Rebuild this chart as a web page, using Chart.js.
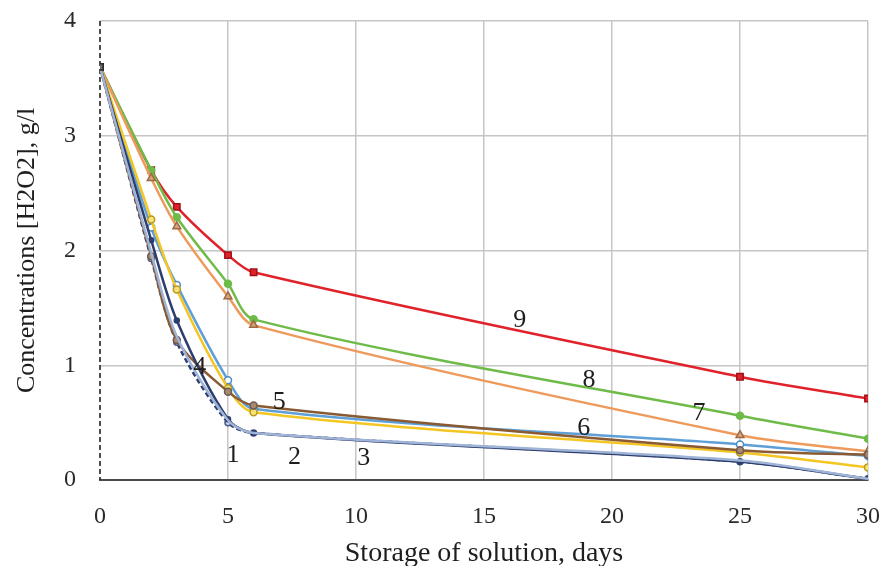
<!DOCTYPE html>
<html>
<head>
<meta charset="utf-8">
<script src="https://cdn.jsdelivr.net/npm/chart.js@4/dist/chart.umd.min.js"></script>
<style>
  html, body { margin: 0; padding: 0; background: #fff; }
  #wrap { width: 885px; height: 566px; }
</style>
</head>
<body>
<div id="wrap"><canvas id="myChart" width="885" height="566"></canvas></div>
<script>
// storage time, days
const days = [0, 2, 3, 5, 6, 25, 30];

// H2O2 concentration, g/l, one array per curve
const curve1 = [3.6, 1.93, 1.20, 0.50, 0.41, 0.16, 0.01];
const curve2 = [3.6, 1.98, 1.25, 0.52, 0.41, 0.17, 0.01];
const curve3 = [3.6, 2.09, 1.39, 0.53, 0.41, 0.16, 0.01];
const curve4 = [3.6, 1.95, 1.22, 0.77, 0.65, 0.26, 0.22];
const curve5 = [3.6, 2.27, 1.66, 0.80, 0.59, 0.24, 0.11];
const curve6 = [3.6, 2.20, 1.70, 0.87, 0.62, 0.31, 0.21];
const curve7 = [3.6, 2.63, 2.21, 1.60, 1.35, 0.39, 0.25];
const curve8 = [3.6, 2.70, 2.29, 1.71, 1.40, 0.56, 0.36];
const curve9 = [3.6, 2.70, 2.38, 1.96, 1.81, 0.90, 0.71];

const xTicks = [0, 5, 10, 15, 20, 25, 30];
const yTicks = [0, 1, 2, 3, 4];

// curve numbers written on the plot: [text, day, concentration]
const curveLabels = [
  ["1", 5.2, 0.22], ["2", 7.6, 0.20], ["3", 10.3, 0.19],
  ["4", 3.9, 0.98], ["5", 7.0, 0.68], ["6", 18.9, 0.45],
  ["7", 23.4, 0.58], ["8", 19.1, 0.87], ["9", 16.4, 1.39]
];

const serif = "'Liberation Serif', 'DejaVu Serif', serif";
const gridGray = "#c6c6c6";

function pts(values) {
  return values.map((v, i) => ({ x: days[i], y: v }));
}

function line(values, color, opts) {
  return Object.assign({
    data: pts(values),
    borderColor: color,
    backgroundColor: color,
    borderWidth: 2.5,
    tension: 0.3,
    pointRadius: 3.5,
    pointBorderWidth: 1.5,
    pointBorderColor: color,
    pointBackgroundColor: "#fff"
  }, opts || {});
}

// dashed vertical axis at day 0, and the curve numbers
const extrasPlugin = {
  id: "extras",
  beforeDatasetsDraw(chart) {
    const { ctx, scales, chartArea } = chart;
    const x0 = scales.x.getPixelForValue(0);
    ctx.save();
    ctx.strokeStyle = "#222";
    ctx.lineWidth = 1.6;
    ctx.setLineDash([5, 3]);
    ctx.beginPath();
    ctx.moveTo(x0, chartArea.top);
    ctx.lineTo(x0, chartArea.bottom);
    ctx.stroke();
    ctx.restore();
  },
  afterDatasetsDraw(chart) {
    const { ctx, scales } = chart;
    ctx.save();
    ctx.fillStyle = "#1e1e1e";
    ctx.font = "26px " + serif;
    ctx.textAlign = "center";
    ctx.textBaseline = "middle";
    curveLabels.forEach(([t, x, y]) => {
      ctx.fillText(t, scales.x.getPixelForValue(x), scales.y.getPixelForValue(y));
    });
    ctx.restore();
  }
};

const datasets = [
  line(curve2, "#9fb4d6", { pointRadius: 0 }),
  line(curve3, "#2c3d6e", { pointRadius: 2.5, pointBackgroundColor: "#2c3d6e" }),
  line(curve4, "#8a5a33", { pointBorderColor: "#6e5a55", pointBackgroundColor: "#a8896e" }),
  line(curve5, "#f3c623", { pointBorderColor: "#b89a1a", pointBackgroundColor: "#f7e27a" }),
  line(curve6, "#5d9fd6", { pointBorderColor: "#4a8ac4" }),
  line(curve7, "#ee9a5c", { pointStyle: "triangle", pointRadius: 4.5, pointBorderColor: "#9b6a44", pointBackgroundColor: "#d9a27a" }),
  line(curve8, "#6fbb4a", { pointRadius: 3.5, pointBackgroundColor: "#6fbb4a" }),
  line(curve9, "#e0222b", { pointStyle: "rect", pointRadius: 4.5, pointBorderColor: "#a01018", pointBackgroundColor: "#e0222b" }),
  line(curve1, "#2c3d6e", { borderDash: [5, 3], pointRadius: 3, pointBorderColor: "#4a5a88", pointBackgroundColor: "#c8d0e4" })
];

// the shared starting point is drawn as a grey square
datasets.forEach(ds => {
  const style = ds.pointStyle || "circle";
  ds.pointStyle = ctx => ctx.dataIndex === 0 ? "rect" : style;
  const r = ds.pointRadius;
  ds.pointRadius = ctx => ctx.dataIndex === 0 ? 4.5 : r;
  const bg = ds.pointBackgroundColor;
  ds.pointBackgroundColor = ctx => ctx.dataIndex === 0 ? "#6b6b6b" : bg;
  const bc = ds.pointBorderColor;
  ds.pointBorderColor = ctx => ctx.dataIndex === 0 ? "#2a2a2a" : bc;
});

const config = {
  type: "line",
  data: { datasets: datasets },
  options: {
    responsive: false,
    animation: false,
    layout: { padding: { top: 21, right: 17, left: 0, bottom: 0 } },
    plugins: { legend: { display: false }, tooltip: { enabled: false } },
    scales: {
      x: {
        type: "linear",
        min: 0,
        max: 30,
        afterBuildTicks: s => { s.ticks = xTicks.map(v => ({ value: v })); },
        afterFit: s => { s.height = 86; },
        grid: {
          color: c => c.tick && c.tick.value === 0 ? "rgba(0,0,0,0)" : gridGray,
          lineWidth: 1.5,
          drawTicks: true,
          tickLength: 18,
          tickColor: "rgba(0,0,0,0)"
        },
        border: { color: "#4a4a4a", width: 2 },
        ticks: { padding: 4, color: "#2a2a2a", font: { family: serif, size: 24 } },
        title: {
          display: true,
          text: "Storage of solution, days",
          color: "#1e1e1e",
          padding: { top: 0, bottom: 0 },
          font: { family: serif, size: 28, lineHeight: 0.9 }
        }
      },
      y: {
        min: 0,
        max: 4,
        afterBuildTicks: s => { s.ticks = yTicks.map(v => ({ value: v })); },
        afterFit: s => { s.width = 100; },
        grid: {
          color: gridGray,
          lineWidth: 1.5,
          drawTicks: true,
          tickLength: 20,
          tickColor: "rgba(0,0,0,0)"
        },
        border: { display: false },
        ticks: { padding: 4, color: "#2a2a2a", font: { family: serif, size: 24 } },
        title: {
          display: true,
          text: "Concentrations [H2O2], g/l",
          color: "#1e1e1e",
          padding: { top: 12, bottom: 0 },
          font: { family: serif, size: 26 }
        }
      }
    }
  },
  plugins: [extrasPlugin]
};

new Chart(document.getElementById("myChart").getContext("2d"), config);
</script>
</body>
</html>
